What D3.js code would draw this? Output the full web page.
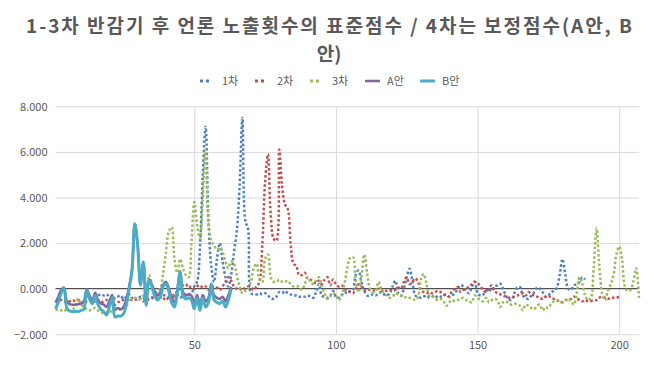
<!DOCTYPE html>
<html><head><meta charset="utf-8">
<script src="https://cdn.jsdelivr.net/npm/d3@7/dist/d3.min.js"></script>
<style>
body{margin:0;background:#fff;}
svg{display:block;}
</style></head>
<body>
<svg id="chart" width="658" height="371"></svg>
<script>
const titleLines = ["1-3차 반감기 후 언론 노출횟수의 표준점수 / 4차는 보정점수(A안, B", "안)"];
const seriesNames = ["1차", "2차", "3차", "A안", "B안"];
const yTicks = [-2, 0, 2, 4, 6, 8];
const xTicks = [50, 100, 150, 200];
const nPoints = 207;

// 1차: starts at index 16
const s1Start = 16;
const s1 = [-0.3,-0.25,-0.3,-0.25,-0.35,-0.5,-0.4,-0.35,-0.3,-0.45,-0.35,-0.25,-0.4,-0.5,-0.45,-0.35,-0.4,-0.5,-0.45,-0.4,
-0.3,-0.35,-0.4,-0.3,-0.3,-0.35,-0.4,-0.35,-0.3,-0.4,-0.3,-0.3,-0.25,-0.2,0.1,0.3,1.8,5.0,7.1,3.0,
1.0,0.3,1.3,2.0,1.2,0.5,0.1,0.6,1.6,2.5,4.5,7.5,3.0,2.6,-0.2,-0.25,-0.25,-0.2,-0.25,-0.2,
-0.3,-0.4,-0.45,-0.35,-0.15,-0.2,-0.1,-0.2,-0.25,-0.3,-0.3,-0.35,-0.35,-0.35,-0.3,-0.35,-0.4,-0.15,0.2,-0.3,
-0.35,-0.4,-0.3,-0.1,-0.35,-0.4,-0.3,-0.15,-0.2,-0.1,-0.05,0.6,0.8,0.3,-0.1,-0.3,-0.3,-0.25,-0.3,-0.2,
-0.15,-0.25,-0.3,-0.2,0.1,0.35,-0.2,-0.3,0.0,0.5,0.88,0.3,-0.3,-0.35,-0.4,-0.35,-0.3,-0.4,-0.35,-0.3,
-0.4,-0.35,-0.3,-0.25,-0.35,-0.3,-0.2,0.0,0.15,0.1,-0.1,-0.2,0.1,0.3,-0.2,-0.3,-0.25,-0.1,0.0,-0.1,
0.1,0.15,0.22,0.0,-0.3,-0.45,-0.5,-0.2,0.05,0.07,-0.3,-0.4,-0.45,-0.3,-0.15,0.05,0.0,-0.15,-0.35,-0.3,
-0.15,-0.1,0.05,0.6,1.3,0.6,0.0,-0.05,0.15,0.2,0.3,0.5,0.4];

// 2차: index 1..200
const s2 = [-0.6,-0.55,-0.5,-0.55,-0.6,-0.55,-0.5,-0.55,-0.5,-0.6,
-0.65,-0.55,-0.5,-0.6,-0.55,-0.5,-0.6,-0.55,-0.5,-0.55,
-0.6,-0.7,-0.6,-0.55,-0.5,-0.55,-0.45,-0.5,-0.45,-0.5,
-0.45,-0.55,-0.5,-0.45,-0.4,-0.45,-0.35,-0.3,-0.4,-0.5,
-0.35,-0.2,-0.3,-0.1,0.0,0.15,0.2,0.05,0.1,0.0,
0.1,0.15,0.05,0.1,-0.05,0.0,0.1,0.05,-0.05,0.1,
0.3,0.5,0.35,0.1,0.0,-0.05,0.05,0.0,0.1,0.05,
-0.05,0.1,0.3,1.9,4.7,5.9,3.2,2.2,2.1,6.1,
4.5,3.7,3.5,2.0,1.1,1.0,0.6,0.6,0.7,0.45,
0.4,0.3,0.25,0.35,0.2,0.4,0.5,0.15,0.4,0.2,
0.1,0.15,0.0,-0.1,-0.15,-0.2,0.0,0.2,0.1,-0.05,
-0.1,-0.05,-0.1,-0.05,0.0,-0.1,-0.05,-0.1,-0.05,-0.1,
-0.05,0.05,0.0,0.3,0.5,0.2,0.3,0.45,0.3,-0.05,
-0.15,-0.2,-0.15,-0.2,-0.15,-0.1,-0.15,-0.25,-0.3,-0.35,
-0.1,0.0,0.07,-0.15,-0.05,0.0,0.1,0.2,0.3,0.25,
0.1,-0.05,-0.15,0.0,0.15,-0.1,-0.2,-0.25,-0.3,-0.35,
-0.4,-0.35,-0.35,-0.3,-0.25,-0.2,-0.3,-0.15,-0.25,-0.3,
-0.35,-0.4,-0.45,-0.35,-0.3,-0.4,-0.45,-0.5,-0.55,-0.6,
-0.5,-0.5,-0.45,-0.35,-0.4,-0.5,-0.55,-0.5,-0.55,-0.55,
-0.5,-0.5,-0.4,-0.35,-0.4,-0.45,-0.4,-0.4,-0.4,-0.35];

// 3차: index 1..207
const s3 = [-0.9,-0.95,-0.95,-0.9,-1.0,-0.95,-0.9,-0.8,-0.45,-0.7,
-0.8,-0.9,-0.95,-0.9,-0.85,-0.95,-1.0,-1.1,-1.05,-1.0,
-1.0,-0.95,-0.95,-0.9,-0.85,-0.8,-0.4,-0.45,-0.4,-0.45,
-0.45,-0.3,-0.2,0.6,0.2,-0.3,-0.1,0.0,0.7,1.6,
2.5,2.7,1.3,0.7,1.3,0.9,0.6,0.5,2.0,3.8,
2.8,2.2,4.0,6.1,2.9,2.1,1.9,1.7,1.8,1.6,
1.2,0.9,1.2,1.1,0.6,0.1,-0.2,-0.1,0.0,0.3,
0.9,1.1,0.4,0.3,1.3,1.5,0.5,0.3,0.3,0.4,
0.3,0.3,0.35,0.2,0.1,0.1,0.1,-0.05,0.2,0.5,
0.3,0.2,0.35,0.5,0.1,-0.2,-0.45,-0.35,-0.2,-0.3,
-0.5,-0.3,0.2,0.9,1.35,1.4,0.4,-0.15,0.5,1.5,
0.7,0.0,-0.15,-0.1,0.3,0.0,-0.2,-0.3,-0.4,-0.35,
-0.2,-0.25,-0.3,-0.4,-0.35,-0.4,-0.45,-0.5,-0.35,0.4,
0.65,0.2,-0.3,-0.3,-0.45,-0.5,-0.45,-0.55,-0.75,-0.6,
-0.5,-0.55,-0.5,-0.45,-0.4,-0.5,-0.55,-0.6,-0.3,-0.4,
-0.5,-0.55,-0.4,-0.6,-0.5,-0.45,-0.5,-0.8,-0.6,-0.55,
-0.65,-0.7,-0.65,-0.7,-0.75,-0.95,-0.7,-0.75,-0.85,-0.9,
-0.75,-0.7,-0.95,-0.8,-0.85,-0.65,-0.55,-0.5,-0.6,-0.55,
-0.5,-0.45,-0.55,-0.7,-0.2,0.5,0.2,-0.3,-0.5,-0.4,
0.9,2.65,1.0,-0.2,-0.5,-0.1,0.2,0.6,1.5,1.85,
1.3,0.1,-0.1,-0.05,0.3,0.9,-0.4];

// A안: index 1..63
const sA = [-0.6,-0.35,-0.05,0.05,-0.55,-0.68,-0.7,-0.7,-0.68,-0.65,
-0.55,-0.02,-0.3,-0.5,-0.18,-0.5,-0.65,-0.7,-0.8,-0.55,
-0.28,-0.9,-0.85,-0.9,-0.8,-0.45,0.1,0.8,2.85,1.9,
0.2,1.17,-0.5,0.42,0.18,-0.1,-0.3,-0.15,0.18,0.3,
0.02,-0.4,-0.6,-0.05,0.78,-0.15,-0.28,-0.25,-0.3,-0.65,
-0.28,-0.7,-0.28,-0.55,-0.4,0.22,-0.3,-0.4,-0.45,-0.35,
-0.55,-0.3,0.08];

// B안: index 1..63
const sB = [-0.88,-0.6,-0.2,0.03,-0.85,-0.98,-1.0,-1.0,-1.0,-0.95,
-0.9,-0.07,-0.45,-0.66,-0.3,-0.7,-0.9,-1.0,-1.15,-0.8,
-0.37,-1.24,-1.2,-1.2,-1.1,-0.7,0.0,0.8,2.85,1.9,
0.15,1.17,-0.73,0.37,0.1,-0.3,-0.5,-0.35,0.1,0.22,
-0.1,-0.6,-0.8,-0.2,0.73,-0.3,-0.45,-0.4,-0.5,-0.88,
-0.4,-0.95,-0.4,-0.8,-0.6,0.18,-0.5,-0.6,-0.65,-0.55,
-0.8,-0.5,0.0];

const colors = ["#4F81BD", "#C0504D", "#9BBB59", "#8064A2", "#4BACC6"];

const svg = d3.select("#chart");
const W = 658, H = 371;
const plot = {left: 55.5, right: 639, top: 106.3, bottom: 334.3};
const x = d3.scaleLinear().domain([1, nPoints]).range([plot.left, plot.right]);
const y = d3.scaleLinear().domain([-2, 8]).range([plot.bottom, plot.top]);
const textColor = "#595959";
const font = "'Noto Sans CJK KR', 'Noto Sans', sans-serif";

svg.append("rect").attr("width", W).attr("height", H).attr("fill", "#fff");

// Title (wrapped onto two lines as in the reference)
const title = svg.append("g").attr("font-family", font).attr("font-weight", "bold")
  .attr("font-size", 19).attr("fill", textColor).attr("text-anchor", "middle");
title.append("text").attr("x", 329).attr("y", 33)
  .attr("textLength", 606).attr("lengthAdjust", "spacing").text(titleLines[0]);
title.append("text").attr("x", 329).attr("y", 61).text(titleLines[1]);

// Horizontal gridlines
svg.append("g").attr("transform", `translate(${plot.left},0)`)
  .call(d3.axisLeft(y).tickValues(yTicks.filter(v => v !== 0)).tickSize(-(plot.right - plot.left)).tickFormat(""))
  .call(g => g.select(".domain").remove())
  .call(g => g.selectAll("line").attr("stroke", "#D9D9D9").attr("stroke-width", 1));

// Vertical gridlines
svg.append("g").attr("transform", `translate(0,${plot.bottom})`)
  .call(d3.axisBottom(x).tickValues(xTicks).tickSize(-(plot.bottom - plot.top)).tickFormat(""))
  .call(g => g.select(".domain").remove())
  .call(g => g.selectAll("line").attr("stroke", "#D9D9D9").attr("stroke-width", 1));

// Y labels
svg.append("g").attr("transform", `translate(${plot.left - 5},0)`)
  .call(d3.axisLeft(y).tickValues(yTicks).tickSize(0).tickFormat(d3.format(".3f")))
  .call(g => g.select(".domain").remove())
  .call(g => g.selectAll("text").attr("font-family", font).attr("font-size", 11).attr("fill", textColor).attr("dy", "0.35em"));

// X labels
svg.append("g").attr("transform", `translate(0,${plot.bottom + 4})`)
  .call(d3.axisBottom(x).tickValues(xTicks).tickSize(0).tickFormat(d3.format("d")))
  .call(g => g.select(".domain").remove())
  .call(g => g.selectAll("text").attr("font-family", font).attr("font-size", 11).attr("fill", textColor));

// Zero line (category axis)
svg.append("line")
  .attr("x1", plot.left).attr("x2", plot.right)
  .attr("y1", y(0)).attr("y2", y(0))
  .attr("stroke", "#262626").attr("stroke-width", 1);

function toPts(arr, start) { return arr.map((v, i) => ({i: start + i, v})); }
const series = [
  {name: seriesNames[0], data: toPts(s1, s1Start), color: colors[0], dotted: true, w: 2.5},
  {name: seriesNames[1], data: toPts(s2, 1), color: colors[1], dotted: true, w: 2.5},
  {name: seriesNames[2], data: toPts(s3, 1), color: colors[2], dotted: true, w: 2.5},
  {name: seriesNames[3], data: toPts(sA, 1), color: colors[3], dotted: false, w: 2.5},
  {name: seriesNames[4], data: toPts(sB, 1), color: colors[4], dotted: false, w: 3}
];

const line = d3.line().x(d => x(d.i)).y(d => y(d.v)).curve(d3.curveCatmullRom.alpha(0.5));
svg.append("g").selectAll("path").data(series).join("path")
  .attr("d", d => line(d.data))
  .attr("fill", "none")
  .attr("stroke", d => d.color)
  .attr("stroke-width", d => d.w)
  .attr("stroke-linejoin", "round")
  .attr("stroke-dasharray", d => d.dotted ? "2.5,2.2" : null);

// Legend
const legend = svg.append("g").attr("transform", "translate(200,81)");
series.forEach((s, k) => {
  const g = legend.append("g").attr("transform", `translate(${k * 55},0)`);
  if (s.dotted) {
    g.append("line").attr("x1", 0).attr("x2", 12).attr("y1", 0).attr("y2", 0)
      .attr("stroke", s.color).attr("stroke-width", 3).attr("stroke-dasharray", "3,3");
  } else {
    g.append("line").attr("x1", 0).attr("x2", 15).attr("y1", 0).attr("y2", 0)
      .attr("stroke", s.color).attr("stroke-width", s.w);
  }
  g.append("text").attr("x", 22).attr("y", 0).attr("dy", "0.35em")
    .attr("font-family", font).attr("font-size", 11).attr("fill", textColor).text(s.name);
});
</script>
</body></html>
